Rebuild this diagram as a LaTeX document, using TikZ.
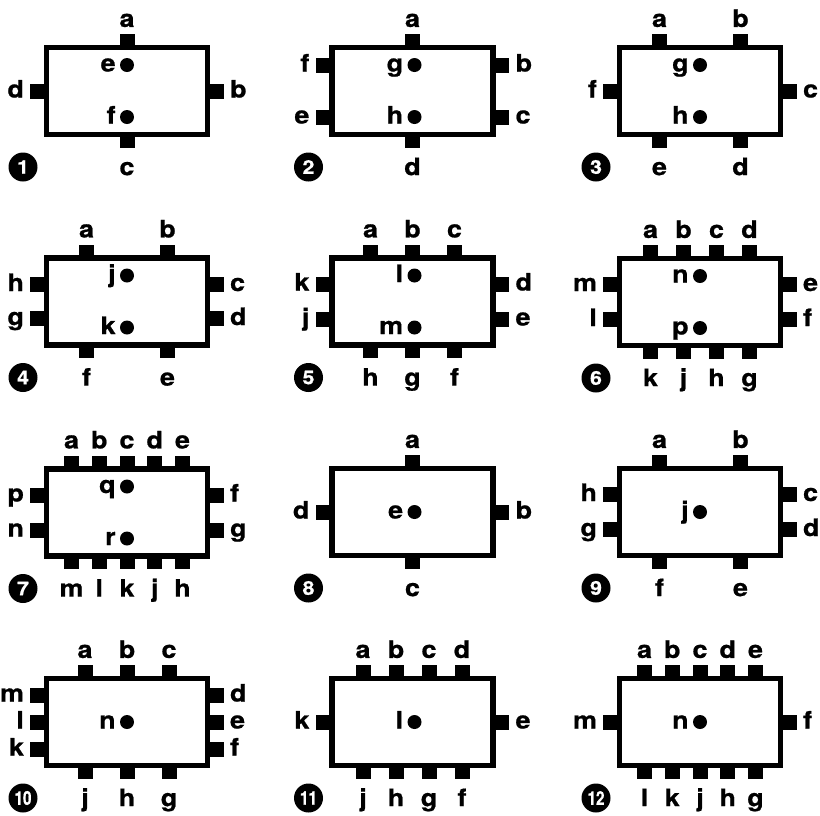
\documentclass[tikz,border=0pt]{standalone}
\usepackage{fontspec}
\setmainfont{TeX Gyre Heros}[FakeStretch=1.12, FakeBold=0.8]
\usepackage{tikz}

\begin{document}
\begin{tikzpicture}[
  x=1pt, y=1pt,
  chip/.style={draw, line width=5.5pt, minimum width=161pt, minimum height=87pt,
               inner sep=0pt},
  lbl/.style={font=\fontsize{24}{24}\selectfont\bfseries, inner sep=0pt,
              text height=13pt, text depth=0pt},
  pinv/.style={fill=black, inner sep=0pt, minimum width=15pt, minimum height=13pt},
  pinh/.style={fill=black, inner sep=0pt, minimum width=16pt, minimum height=15pt},
  tpin/.style={pinv, anchor=south, label={[lbl, label distance=7pt]above:#1}},
  bpin/.style={pinv, anchor=north, label={[lbl, label distance=14pt]below:#1}},
  lpin/.style={pinh, anchor=east, label={[lbl, label distance=6pt]left:#1}},
  rpin/.style={pinh, anchor=west, label={[lbl, label distance=6pt]right:#1}},
  dot/.style={circle, fill=black, inner sep=0pt, minimum size=14pt,
              label={[lbl, label distance=4pt]left:#1}},
  badge/.style={circle, fill=black, text=white, minimum size=29pt, inner sep=0pt,
                font=\fontsize{19}{19}\selectfont\bfseries}
]
\useasboundingbox (0,0) rectangle (820,-815);

%% Panel 1
\begin{scope}[shift={(127,-91)}]
\node[chip] (c1) at (0,0) {};
\node[tpin=a] (c1a) at (0,43.5) {};
\node[rpin=b] (c1b) at (80.5,0) {};
\node[bpin=c] (c1c) at (0,-43.5) {};
\node[lpin=d] (c1d) at (-80.5,0) {};
\node[dot=e]  (c1e) at (0,26) {};
\node[dot=f]  (c1f) at (0,-26) {};
\node[badge]  (n1)  at (-104,-76) {1};
\end{scope}

%% Panel 2
\begin{scope}[shift={(412.5,-91)}]
\node[chip] (c2) at (0,0) {};
\node[tpin=a] (c2a) at (0,43.5) {};
\node[rpin=b] (c2b) at (80.5,26) {};
\node[rpin=c] (c2c) at (80.5,-26) {};
\node[bpin=d] (c2d) at (0,-43.5) {};
\node[lpin=e] (c2e) at (-80.5,-26) {};
\node[lpin=f] (c2f) at (-80.5,26) {};
\node[dot=g]  (c2g) at (2,26) {};
\node[dot=h]  (c2h) at (2,-26) {};
\node[badge]  (n2)  at (-104,-76) {2};
\end{scope}

%% Panel 3
\begin{scope}[shift={(700,-91)}]
\node[chip] (c3) at (0,0) {};
\node[tpin=a] (c3a) at (-40.5,43.5) {};
\node[tpin=b] (c3b) at (40.5,43.5) {};
\node[rpin=c] (c3c) at (80.5,0) {};
\node[bpin=d] (c3d) at (40.5,-43.5) {};
\node[bpin=e] (c3e) at (-40.5,-43.5) {};
\node[lpin=f] (c3f) at (-80.5,0) {};
\node[dot=g]  (c3g) at (0,26) {};
\node[dot=h]  (c3h) at (0,-26) {};
\node[badge]  (n3)  at (-104,-76) {3};
\end{scope}

%% Panel 4
\begin{scope}[shift={(127,-301.5)}]
\node[chip] (c4) at (0,0) {};
\node[tpin=a] (c4a) at (-40.5,43.5) {};
\node[tpin=b] (c4b) at (40.5,43.5) {};
\node[rpin=c] (c4c) at (80.5,17) {};
\node[rpin=d] (c4d) at (80.5,-17) {};
\node[bpin=e] (c4e) at (40.5,-43.5) {};
\node[bpin=f] (c4f) at (-40.5,-43.5) {};
\node[lpin=g] (c4g) at (-80.5,-17) {};
\node[lpin=h] (c4h) at (-80.5,17) {};
\node[dot=j]  (c4j) at (0,26) {};
\node[dot=k]  (c4k) at (0,-26) {};
\node[badge]  (n4)  at (-104,-76) {4};
\end{scope}

%% Panel 5
\begin{scope}[shift={(412.5,-301.5)}]
\node[chip] (c5) at (0,0) {};
\node[tpin=a] (c5a) at (-42,43.5) {};
\node[tpin=b] (c5b) at (0,43.5) {};
\node[tpin=c] (c5c) at (42,43.5) {};
\node[rpin=d] (c5d) at (80.5,17.5) {};
\node[rpin=e] (c5e) at (80.5,-17.5) {};
\node[bpin=f] (c5f) at (42,-43.5) {};
\node[bpin=g] (c5g) at (0,-43.5) {};
\node[bpin=h] (c5h) at (-42,-43.5) {};
\node[lpin=j] (c5j) at (-80.5,-17.5) {};
\node[lpin=k] (c5k) at (-80.5,17.5) {};
\node[dot=l]  (c5l) at (2,26) {};
\node[dot=m]  (c5m) at (2,-26) {};
\node[badge]  (n5)  at (-104,-76) {5};
\end{scope}

%% Panel 6
\begin{scope}[shift={(700,-302)}]
\node[chip] (c6) at (0,0) {};
\node[tpin=a] (c6a) at (-49.5,43.5) {};
\node[tpin=b] (c6b) at (-16.5,43.5) {};
\node[tpin=c] (c6c) at (16.5,43.5) {};
\node[tpin=d] (c6d) at (49.5,43.5) {};
\node[rpin=e] (c6e) at (80.5,17.5) {};
\node[rpin=f] (c6f) at (80.5,-17.5) {};
\node[bpin=g] (c6g) at (49.5,-43.5) {};
\node[bpin=h] (c6h) at (16.5,-43.5) {};
\node[bpin=j] (c6j) at (-16.5,-43.5) {};
\node[bpin=k] (c6k) at (-49.5,-43.5) {};
\node[lpin=l] (c6l) at (-80.5,-17.5) {};
\node[lpin=m] (c6m) at (-80.5,17.5) {};
\node[dot=n]  (c6n) at (0,26) {};
\node[dot=p]  (c6p) at (0,-26) {};
\node[badge]  (n6)  at (-104,-76) {6};
\end{scope}

%% Panel 7
\begin{scope}[shift={(127,-512.5)}]
\node[chip] (c7) at (0,0) {};
\node[tpin=a] (c7a) at (-55.5,43.5) {};
\node[tpin=b] (c7b) at (-27.75,43.5) {};
\node[tpin=c] (c7c) at (0,43.5) {};
\node[tpin=d] (c7d) at (27.75,43.5) {};
\node[tpin=e] (c7e) at (55.5,43.5) {};
\node[rpin=f] (c7f) at (80.5,17.5) {};
\node[rpin=g] (c7g) at (80.5,-17.5) {};
\node[bpin=h] (c7h) at (55.5,-43.5) {};
\node[bpin=j] (c7j) at (27.75,-43.5) {};
\node[bpin=k] (c7k) at (0,-43.5) {};
\node[bpin=l] (c7l) at (-27.75,-43.5) {};
\node[bpin=m] (c7m) at (-55.5,-43.5) {};
\node[lpin=n] (c7n) at (-80.5,-17.5) {};
\node[lpin=p] (c7p) at (-80.5,17.5) {};
\node[dot=q]  (c7q) at (0,26) {};
\node[dot=r]  (c7r) at (0,-26) {};
\node[badge]  (n7)  at (-104,-76) {7};
\end{scope}

%% Panel 8
\begin{scope}[shift={(412.5,-512)}]
\node[chip] (c8) at (0,0) {};
\node[tpin=a] (c8a) at (0,43.5) {};
\node[rpin=b] (c8b) at (80.5,0) {};
\node[bpin=c] (c8c) at (0,-43.5) {};
\node[lpin=d] (c8d) at (-80.5,0) {};
\node[dot=e]  (c8e) at (2,0) {};
\node[badge]  (n8)  at (-104,-76) {8};
\end{scope}

%% Panel 9
\begin{scope}[shift={(700,-512)}]
\node[chip] (c9) at (0,0) {};
\node[tpin=a] (c9a) at (-40.5,43.5) {};
\node[tpin=b] (c9b) at (40.5,43.5) {};
\node[rpin=c] (c9c) at (80.5,17.5) {};
\node[rpin=d] (c9d) at (80.5,-17.5) {};
\node[bpin=e] (c9e) at (40.5,-43.5) {};
\node[bpin=f] (c9f) at (-40.5,-43.5) {};
\node[lpin=g] (c9g) at (-80.5,-17.5) {};
\node[lpin=h] (c9h) at (-80.5,17.5) {};
\node[dot=j]  (c9j) at (0,0) {};
\node[badge]  (n9)  at (-104,-76) {9};
\end{scope}

%% Panel 10
\begin{scope}[shift={(127,-722)}]
\node[chip] (c10) at (0,0) {};
\node[tpin=a] (c10a) at (-42,43.5) {};
\node[tpin=b] (c10b) at (0,43.5) {};
\node[tpin=c] (c10c) at (42,43.5) {};
\node[rpin=d] (c10d) at (80.5,27) {};
\node[rpin=e] (c10e) at (80.5,0) {};
\node[rpin=f] (c10f) at (80.5,-27) {};
\node[bpin=g] (c10g) at (42,-43.5) {};
\node[bpin=h] (c10h) at (0,-43.5) {};
\node[bpin=j] (c10j) at (-42,-43.5) {};
\node[lpin=k] (c10k) at (-80.5,-27) {};
\node[lpin=l] (c10l) at (-80.5,0) {};
\node[lpin=m] (c10m) at (-80.5,27) {};
\node[dot=n]  (c10n) at (0,0) {};
\node[badge]  (n10) at (-104,-76) {\scalebox{0.72}[1]{10}};
\end{scope}

%% Panel 11
\begin{scope}[shift={(412.5,-722)}]
\node[chip] (c11) at (0,0) {};
\node[tpin=a] (c11a) at (-49.5,43.5) {};
\node[tpin=b] (c11b) at (-16.5,43.5) {};
\node[tpin=c] (c11c) at (16.5,43.5) {};
\node[tpin=d] (c11d) at (49.5,43.5) {};
\node[rpin=e] (c11e) at (80.5,0) {};
\node[bpin=f] (c11f) at (49.5,-43.5) {};
\node[bpin=g] (c11g) at (16.5,-43.5) {};
\node[bpin=h] (c11h) at (-16.5,-43.5) {};
\node[bpin=j] (c11j) at (-49.5,-43.5) {};
\node[lpin=k] (c11k) at (-80.5,0) {};
\node[dot=l]  (c11l) at (2,0) {};
\node[badge]  (n11) at (-104,-76) {\scalebox{0.72}[1]{11}};
\end{scope}

%% Panel 12
\begin{scope}[shift={(700,-722)}]
\node[chip] (c12) at (0,0) {};
\node[tpin=a] (c12a) at (-55.5,43.5) {};
\node[tpin=b] (c12b) at (-27.75,43.5) {};
\node[tpin=c] (c12c) at (0,43.5) {};
\node[tpin=d] (c12d) at (27.75,43.5) {};
\node[tpin=e] (c12e) at (55.5,43.5) {};
\node[rpin=f] (c12f) at (80.5,0) {};
\node[bpin=g] (c12g) at (55.5,-43.5) {};
\node[bpin=h] (c12h) at (27.75,-43.5) {};
\node[bpin=j] (c12j) at (0,-43.5) {};
\node[bpin=k] (c12k) at (-27.75,-43.5) {};
\node[bpin=l] (c12l) at (-55.5,-43.5) {};
\node[lpin=m] (c12m) at (-80.5,0) {};
\node[dot=n]  (c12n) at (0,0) {};
\node[badge]  (n12) at (-104,-76) {\scalebox{0.72}[1]{12}};
\end{scope}

\end{tikzpicture}
\end{document}
